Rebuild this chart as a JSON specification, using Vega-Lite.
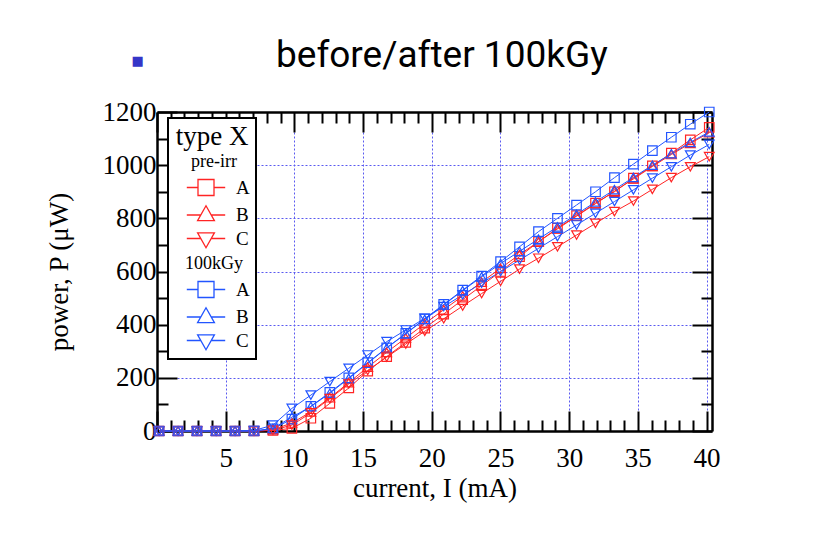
{
  "$schema": "https://vega.github.io/schema/vega-lite/v6.json",
  "autosize": {"type": "none"},
  "width": 555,
  "height": 319,
  "padding": {"left": 157, "top": 112, "right": 104, "bottom": 116},
  "background": "white",
  "title": {
    "text": "before/after 100kGy",
    "anchor": "start",
    "frame": "group",
    "dx": 119,
    "font": "Roboto",
    "fontSize": 37,
    "fontWeight": "normal",
    "color": "black",
    "offset": -21
  },
  "datasets": {
    "curves": [
      {"I": 0.15, "pre-irr A": 0, "pre-irr B": 0, "pre-irr C": 0, "100kGy A": 0, "100kGy B": 0, "100kGy C": 0},
      {"I": 1.53, "pre-irr A": 0, "pre-irr B": 0, "pre-irr C": 0, "100kGy A": 0, "100kGy B": 0, "100kGy C": 0},
      {"I": 2.91, "pre-irr A": 0, "pre-irr B": 0, "pre-irr C": 0, "100kGy A": 0, "100kGy B": 0, "100kGy C": 0},
      {"I": 4.30, "pre-irr A": 0, "pre-irr B": 0, "pre-irr C": 0, "100kGy A": 0, "100kGy B": 0, "100kGy C": 0},
      {"I": 5.68, "pre-irr A": 0, "pre-irr B": 0, "pre-irr C": 0, "100kGy A": 0, "100kGy B": 0, "100kGy C": 0},
      {"I": 7.06, "pre-irr A": 0, "pre-irr B": 0, "pre-irr C": 0, "100kGy A": 0, "100kGy B": 0, "100kGy C": 2},
      {"I": 8.44, "pre-irr A": 2, "pre-irr B": 5, "pre-irr C": 3, "100kGy A": 8, "100kGy B": 10, "100kGy C": 22},
      {"I": 9.82, "pre-irr A": 10, "pre-irr B": 30, "pre-irr C": 22, "100kGy A": 45, "100kGy B": 52, "100kGy C": 85},
      {"I": 11.20, "pre-irr A": 48, "pre-irr B": 72, "pre-irr C": 68, "100kGy A": 93, "100kGy B": 92, "100kGy C": 135},
      {"I": 12.58, "pre-irr A": 104, "pre-irr B": 125, "pre-irr C": 122, "100kGy A": 145, "100kGy B": 142, "100kGy C": 186},
      {"I": 13.96, "pre-irr A": 162, "pre-irr B": 182, "pre-irr C": 177, "100kGy A": 200, "100kGy B": 198, "100kGy C": 236},
      {"I": 15.34, "pre-irr A": 225, "pre-irr B": 240, "pre-irr C": 228, "100kGy A": 257, "100kGy B": 255, "100kGy C": 286},
      {"I": 16.72, "pre-irr A": 280, "pre-irr B": 296, "pre-irr C": 278, "100kGy A": 313, "100kGy B": 312, "100kGy C": 336},
      {"I": 18.11, "pre-irr A": 333, "pre-irr B": 350, "pre-irr C": 327, "100kGy A": 367, "100kGy B": 366, "100kGy C": 380},
      {"I": 19.49, "pre-irr A": 387, "pre-irr B": 404, "pre-irr C": 375, "100kGy A": 422, "100kGy B": 420, "100kGy C": 424},
      {"I": 20.87, "pre-irr A": 440, "pre-irr B": 456, "pre-irr C": 422, "100kGy A": 476, "100kGy B": 474, "100kGy C": 468},
      {"I": 22.25, "pre-irr A": 494, "pre-irr B": 508, "pre-irr C": 470, "100kGy A": 530, "100kGy B": 528, "100kGy C": 512},
      {"I": 23.63, "pre-irr A": 547, "pre-irr B": 560, "pre-irr C": 517, "100kGy A": 583, "100kGy B": 580, "100kGy C": 556},
      {"I": 25.01, "pre-irr A": 600, "pre-irr B": 612, "pre-irr C": 563, "100kGy A": 637, "100kGy B": 630, "100kGy C": 600},
      {"I": 26.39, "pre-irr A": 656, "pre-irr B": 664, "pre-irr C": 609, "100kGy A": 693, "100kGy B": 676, "100kGy C": 643},
      {"I": 27.77, "pre-irr A": 712, "pre-irr B": 712, "pre-irr C": 650, "100kGy A": 750, "100kGy B": 722, "100kGy C": 687},
      {"I": 29.15, "pre-irr A": 763, "pre-irr B": 760, "pre-irr C": 693, "100kGy A": 800, "100kGy B": 768, "100kGy C": 731},
      {"I": 30.54, "pre-irr A": 810, "pre-irr B": 808, "pre-irr C": 737, "100kGy A": 850, "100kGy B": 815, "100kGy C": 775},
      {"I": 31.92, "pre-irr A": 857, "pre-irr B": 855, "pre-irr C": 781, "100kGy A": 900, "100kGy B": 862, "100kGy C": 819},
      {"I": 33.30, "pre-irr A": 900, "pre-irr B": 902, "pre-irr C": 825, "100kGy A": 953, "100kGy B": 908, "100kGy C": 863},
      {"I": 34.68, "pre-irr A": 951, "pre-irr B": 948, "pre-irr C": 865, "100kGy A": 1004, "100kGy B": 954, "100kGy C": 907},
      {"I": 36.06, "pre-irr A": 997, "pre-irr B": 995, "pre-irr C": 909, "100kGy A": 1055, "100kGy B": 1000, "100kGy C": 951},
      {"I": 37.44, "pre-irr A": 1045, "pre-irr B": 1040, "pre-irr C": 953, "100kGy A": 1105, "100kGy B": 1043, "100kGy C": 994},
      {"I": 38.82, "pre-irr A": 1095, "pre-irr B": 1082, "pre-irr C": 994, "100kGy A": 1154, "100kGy B": 1086, "100kGy C": 1038},
      {"I": 40.20, "pre-irr A": 1142, "pre-irr B": 1122, "pre-irr C": 1032, "100kGy A": 1200, "100kGy B": 1125, "100kGy C": 1078}
    ]
  },
  "data": {"name": "curves"},
  "transform": [
    {"fold": ["pre-irr A", "pre-irr B", "pre-irr C", "100kGy A", "100kGy B", "100kGy C"], "as": ["s", "P"]}
  ],
  "config": {
    "view": {"stroke": null},
    "axis": {
      "domainColor": "black",
      "domainWidth": 2.5,
      "tickColor": "black",
      "tickWidth": 2,
      "labelFont": "Liberation Serif",
      "labelFontSize": 27,
      "labelColor": "black",
      "titleFont": "Liberation Serif",
      "titleFontSize": 27,
      "titleFontWeight": "normal",
      "titleColor": "black",
      "gridColor": "#5a5af0",
      "gridDash": [2, 2],
      "gridWidth": 1,
      "labelOverlap": false,
      "labelFlush": false
    },
    "legend": {
      "titleFont": "Liberation Serif",
      "titleFontSize": 27,
      "titleFontWeight": "normal",
      "titleColor": "black",
      "titleAnchor": "middle",
      "titleAlign": "center",
      "titlePadding": 2,
      "labelFont": "Liberation Serif",
      "labelFontSize": 19,
      "labelColor": "black",
      "symbolSize": 256,
      "symbolStrokeWidth": 1.3,
      "symbolOffset": 23,
      "labelOffset": 21,
      "rowPadding": 4.5,
      "padding": 6,
      "strokeColor": "black",
      "fillColor": "white"
    }
  },
  "resolve": {"axis": {"x": "independent", "y": "independent"}},
  "encoding": {
    "color": {
      "field": "s", "type": "nominal",
      "scale": {
        "domain": ["pre-irr", "pre-irr A", "pre-irr B", "pre-irr C", "100kGy", "100kGy A", "100kGy B", "100kGy C"],
        "range": ["black", "#ff2424", "#ff2424", "#ff2424", "black", "#2255ff", "#2255ff", "#2255ff"]
      },
      "legend": {
        "title": "type X",
        "orient": "none",
        "legendX": 11,
        "legendY": 6,
        "labelExpr": "indexof(datum.value, ' ') > 0 ? substring(datum.value, indexof(datum.value, ' ') + 1) : datum.value",
        "encoding": {
          "legend": {"strokeWidth": {"value": 2}},
          "symbols": {
            "shape": {"condition": [
              {"test": "indexof(datum.value, ' A') > 0", "value": "M-2.4,0H-1M1,0H2.4M-1,-1H1V1H-1Z"},
              {"test": "indexof(datum.value, ' B') > 0", "value": "M-2.4,0H-0.62M0.62,0H2.4M0,-1.15L1.05,0.7H-1.05Z"}
            ], "value": "M-2.4,0H-0.62M0.62,0H2.4M0,1.15L1.05,-0.7H-1.05Z"},
            "opacity": {"condition": {"test": "indexof(datum.value, ' ') > 0", "value": 1}, "value": 0},
            "fill": {"value": "transparent"},
            "strokeWidth": {"value": 1.3}
          },
          "labels": {
            "fontSize": {"condition": {"test": "indexof(datum.value, ' ') > 0", "value": 19}, "value": 18},
            "align": {"condition": {"test": "indexof(datum.value, ' ') > 0", "value": "left"}, "value": "center"},
            "dx": {"condition": {"test": "indexof(datum.value, ' ') > 0", "value": 0}, "value": -22}
          }
        }
      }
    }
  },
  "layer": [
    {
      "mark": {"type": "line", "strokeWidth": 1, "clip": false},
      "encoding": {
        "x": {
          "field": "I", "type": "quantitative",
          "scale": {"domain": [0, 40.4], "nice": false, "zero": false},
          "axis": {
            "orient": "bottom",
            "title": "current, I (mA)",
            "values": [0,1,2,3,4,5,6,7,8,9,10,11,12,13,14,15,16,17,18,19,20,21,22,23,24,25,26,27,28,29,30,31,32,33,34,35,36,37,38,39,40],
            "format": "d",
            "labelExpr": "datum.value % 5 == 0 && datum.value > 0 ? datum.label : ''",
            "tickSize": {"condition": {"test": "datum.value % 5 == 0", "value": -20}, "value": -11},
            "grid": true,
            "gridOpacity": {"condition": {"test": "datum.value % 5 == 0 && datum.value > 0", "value": 1}, "value": 0},
            "labelPadding": 34,
            "titlePadding": -5
          }
        },
        "y": {
          "field": "P", "type": "quantitative",
          "scale": {"domain": [0, 1200], "nice": false},
          "axis": {
            "orient": "left",
            "title": "power, P (μW)",
            "values": [0,100,200,300,400,500,600,700,800,900,1000,1100,1200],
            "format": "d",
            "labelExpr": "datum.value % 200 == 0 ? datum.label : ''",
            "tickSize": {"condition": {"test": "datum.value % 200 == 0", "value": -20}, "value": -11},
            "grid": true,
            "gridOpacity": {"condition": {"test": "datum.value % 200 == 0 && datum.value > 0 && datum.value < 1200", "value": 1}, "value": 0},
            "labelPadding": 21,
            "titlePadding": 29
          }
        }
      }
    },
    {
      "transform": [{"filter": "indexof(datum.s, ' A') > 0"}],
      "mark": {"type": "point", "shape": "square", "filled": false, "size": 90, "strokeWidth": 1.2, "opacity": 1, "clip": false},
      "encoding": {
        "x": {
          "field": "I", "type": "quantitative",
          "axis": {
            "orient": "top",
            "title": "■",
            "titleFont": "DejaVu Sans",
            "titleFontSize": 13,
            "titleColor": "#3535c8",
            "titleAlign": "left",
            "titleBaseline": "top",
            "titleAnchor": "start",
            "titleX": -26,
            "titleY": -58,
            "labels": false,
            "grid": false,
            "values": [0,1,2,3,4,5,6,7,8,9,10,11,12,13,14,15,16,17,18,19,20,21,22,23,24,25,26,27,28,29,30,31,32,33,34,35,36,37,38,39,40],
            "tickSize": {"condition": {"test": "datum.value % 5 == 0", "value": -20}, "value": -11}
          }
        },
        "y": {
          "field": "P", "type": "quantitative",
          "axis": {
            "orient": "right",
            "title": null,
            "labels": false,
            "grid": false,
            "values": [0,100,200,300,400,500,600,700,800,900,1000,1100,1200],
            "tickSize": {"condition": {"test": "datum.value % 200 == 0", "value": -20}, "value": -11}
          }
        }
      }
    },
    {
      "transform": [{"filter": "indexof(datum.s, ' B') > 0"}],
      "mark": {"type": "point", "shape": "triangle-up", "filled": false, "size": 95, "strokeWidth": 1.2, "opacity": 1, "clip": false},
      "encoding": {
        "x": {"field": "I", "type": "quantitative", "axis": null},
        "y": {"field": "P", "type": "quantitative", "axis": null}
      }
    },
    {
      "transform": [{"filter": "indexof(datum.s, ' C') > 0"}],
      "mark": {"type": "point", "shape": "triangle-down", "filled": false, "size": 95, "strokeWidth": 1.2, "opacity": 1, "clip": false},
      "encoding": {
        "x": {"field": "I", "type": "quantitative", "axis": null},
        "y": {"field": "P", "type": "quantitative", "axis": null}
      }
    }
  ]
}
